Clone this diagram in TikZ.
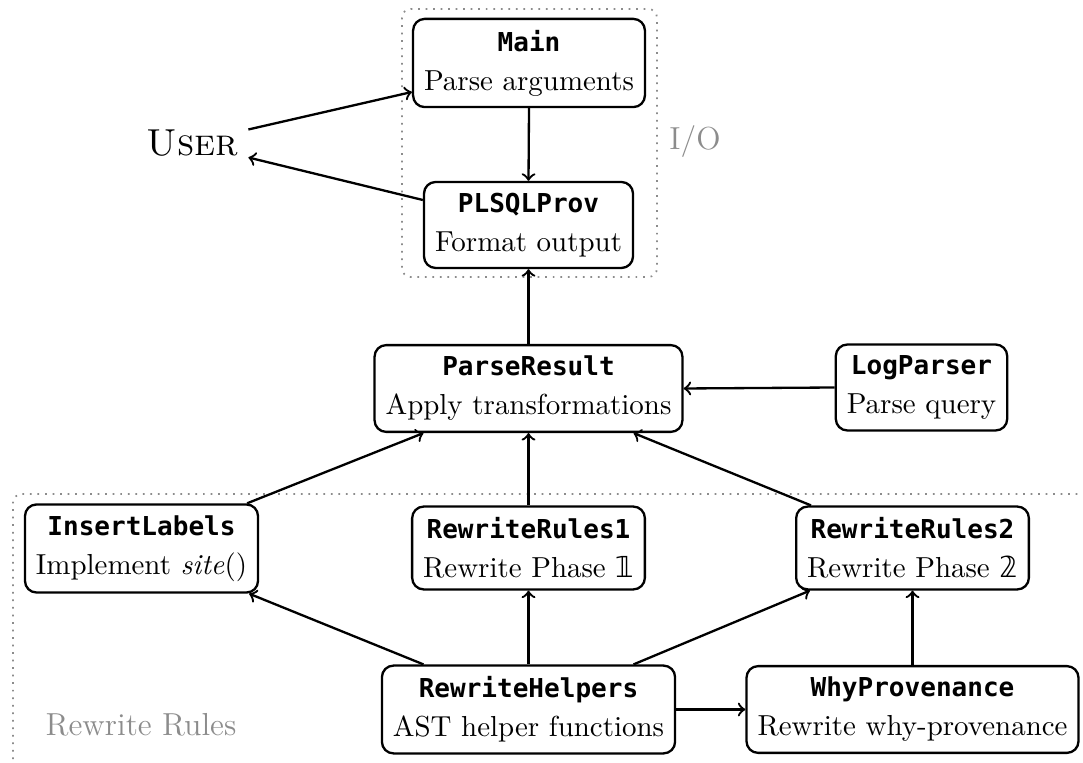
\documentclass[tikz,border=0pt]{standalone}
\usepackage{fontspec}
\setmonofont{DejaVu Sans Mono}[Scale=0.9]
\newfontfamily\dsfont{DejaVu Sans}
\usetikzlibrary{calc}
\newcommand\modname[1]{{\ttfamily\bfseries #1}}
\begin{document}
\begin{tikzpicture}[x=0.3456pt,y=-0.3456pt,
  box/.style={draw,thick,rounded corners=4pt,align=center,inner sep=3.8pt,
    font=\fontsize{10}{13.5}\selectfont},
  arr/.style={->,thick},
  region/.style={draw=black!45,dotted,line width=0.6pt},
  regionlabel/.style={text=black!45,font=\fontsize{11}{13}\selectfont}]
\useasboundingbox (0,0) rectangle (1083,763);
% regions
\draw[region,rounded corners=3pt] (402,9) rectangle (657,277);
\draw[region,rounded corners=3pt] (1100,494) -- (13,494) -- (13,780);
\node[regionlabel] (iolabel) at (695,142) {I/O};
\node[regionlabel] (rrlabel) at (141,725) {Rewrite Rules};
% nodes
\node[font=\fontsize{13}{15}\selectfont,inner sep=3.3pt] (user) at (192.5,143.5) {\textsc{User}};
\node[box] (main) at (529,63) {\modname{Main}\\Parse arguments};
\node[box] (plsql) at (528.5,225) {\modname{PLSQLProv}\\Format output};
\node[box] (pr) at (528.5,388.5) {\modname{ParseResult}\\Apply transformations};
\node[box] (lp) at (921.5,387.5) {\modname{LogParser}\\Parse query};
\node[box] (il) at (141.5,548.5) {\modname{InsertLabels}\\Implement \textit{site}()};
\node[box] (rr1) at (528.5,548) {\modname{RewriteRules1}\\Rewrite Phase {\dsfont 𝟙}};
\node[box] (rr2) at (912.5,548) {\modname{RewriteRules2}\\Rewrite Phase {\dsfont 𝟚}};
\node[box] (rh) at (528.5,709.5) {\modname{RewriteHelpers}\\AST helper functions};
\node[box] (wp) at (912.5,709.5) {\modname{WhyProvenance}\\Rewrite why-provenance};
% connectors
\draw[arr] ($(user.east)+(0,-14)$) -- ($(main.west)+(0,29)$);
\draw[arr] ($(plsql.west)+(0,-25)$) -- ($(user.east)+(0,14)$);
\draw[arr] (main.south) -- (plsql.north);
\draw[arr] (pr.north) -- (plsql.south);
\draw[arr] (lp.west) -- (pr.east);
\draw[arr] ($(il.north east)+(-12,0)$) -- ($(pr.south)+(-105,0)$);
\draw[arr] (rr1.north) -- (pr.south);
\draw[arr] ($(rr2.north west)+(16,0)$) -- ($(pr.south)+(105,0)$);
\draw[arr] ($(rh.north)+(-105,0)$) -- ($(il.south east)+(-10,0)$);
\draw[arr] (rh.north) -- (rr1.south);
\draw[arr] ($(rh.north)+(105,0)$) -- ($(rr2.south west)+(15,0)$);
\draw[arr] (rh.east) -- (wp.west);
\draw[arr] (wp.north) -- (rr2.south);
\end{tikzpicture}
\end{document}
